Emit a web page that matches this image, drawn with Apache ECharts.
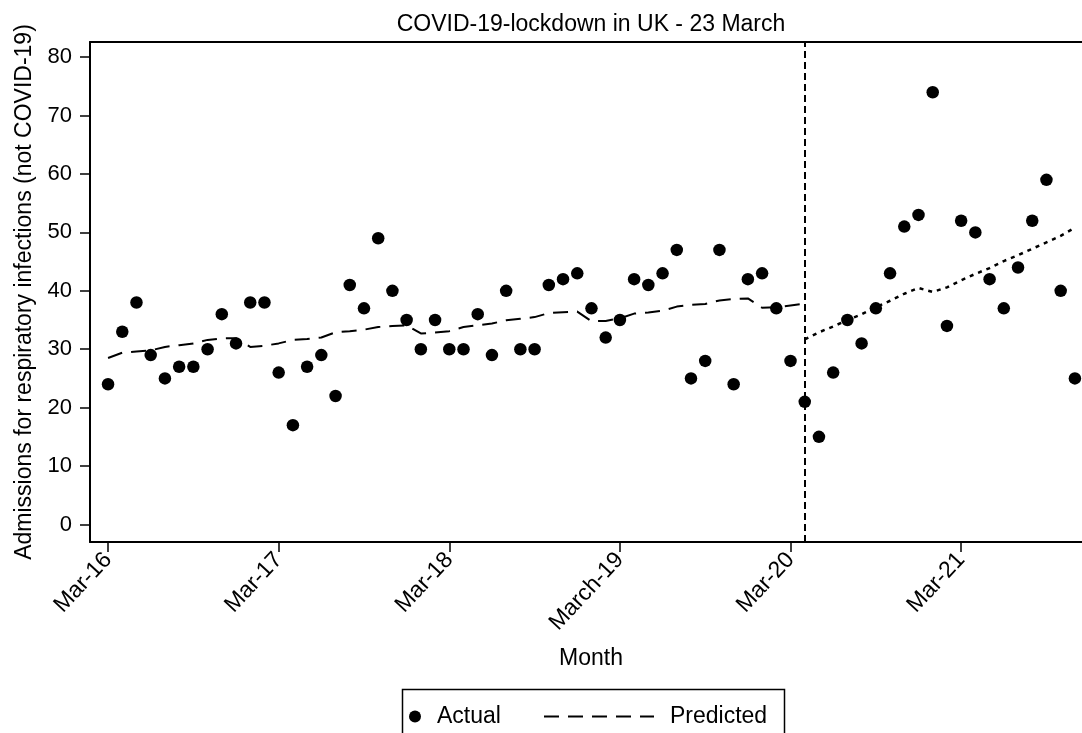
<!DOCTYPE html>
<html>
<head>
<meta charset="utf-8">
<script src="https://cdn.jsdelivr.net/npm/echarts@6/dist/echarts.min.js"></script>
<style>
  html, body { margin: 0; padding: 0; background: #fff; }
  #chart { width: 1082px; height: 733px; }
</style>
</head>
<body>
<div id="chart"></div>
<script>
// Month index 0 = Mar 2016, monthly through Nov 2021 (index 68)
const actual = [
  24, 33, 38, 29, 25, 27, 27, 30, 36, 31, 38, 38,
  26, 17, 27, 29, 22, 41, 37, 49, 40, 35, 30, 35,
  30, 30, 36, 29, 40, 30, 30, 41, 42, 43, 37, 32,
  35, 42, 41, 43, 47, 25, 28, 47, 24, 42, 43, 37,
  28, 21, 15, 26, 35, 31, 37, 43, 51, 53, 74, 34,
  52, 50, 42, 37, 44, 52, 59, 40, 25
];
// Predicted (pre-lockdown), month indices 0..49
const predicted = [
  28.5, 29.4, 29.6, 29.8, 30.4, 30.7, 31.0, 31.6, 31.85, 31.9,
  30.4, 30.6, 31.0, 31.6, 31.75, 32.0, 32.9, 33.1, 33.35, 33.8,
  34.0, 34.1, 32.7, 32.85, 33.1, 33.8, 34.1, 34.4, 34.95, 35.2,
  35.5, 36.2, 36.35, 36.45, 34.8, 34.85, 35.3, 36.1, 36.3, 36.6,
  37.3, 37.6, 37.75, 38.35, 38.6, 38.7, 37.1, 37.2, 37.5, 37.8
];
// Predicted after lockdown (dotted), month indices 49..68
const postStart = 49;
const predictedPost = [
  31.7, 32.9, 33.9, 35.0, 36.0, 37.2, 38.3, 39.5, 40.5, 39.8,
  40.6, 41.8, 42.9, 43.9, 45.1, 46.1, 47.2, 48.3, 49.4, 50.8
];
const lockdownIndex = 49;
const tickMonths = [0, 12, 24, 36, 48, 60];
const tickLabels = ['Mar-16', 'Mar-17', 'Mar-18', 'March-19', 'Mar-20', 'Mar-21'];
const yTicks = [0, 10, 20, 30, 40, 50, 60, 70, 80];

const FONT = '"Liberation Sans", Arial, Helvetica, sans-serif';

const actualData = actual.map((v, i) => [i, v]);
const predData = predicted.map((v, i) => [i, v]);
const postData = predictedPost.map((v, i) => [postStart + i, v]);

const chart = echarts.init(document.getElementById('chart'), null, { renderer: 'canvas' });
chart.setOption({
  animation: false,
  backgroundColor: '#fff',
  textStyle: { fontFamily: FONT, color: '#000' },
  title: {
    text: 'COVID-19-lockdown in UK - 23 March',
    left: 586, top: 8, textAlign: 'center',
    textStyle: { fontFamily: FONT, fontSize: 23, fontWeight: 'normal', color: '#000' }
  },
  grid: { left: 90, right: 0, top: 42, bottom: 191, containLabel: false },
  xAxis: [{
    type: 'value', min: -1.27, max: 68.5,
    name: 'Month', nameLocation: 'middle', nameGap: 105,
    nameTextStyle: { fontFamily: FONT, fontSize: 23, color: '#000', padding: [0, 0, 0, 10] },
    axisLine: { show: true, onZero: false, lineStyle: { color: '#000', width: 2 } },
    axisTick: { show: true, length: 10, lineStyle: { color: '#000', width: 1.5 }, customValues: tickMonths },
    axisLabel: {
      customValues: tickMonths, rotate: 47, margin: 14,
      fontFamily: FONT, fontSize: 23, color: '#000',
      formatter: v => { const k = tickMonths.indexOf(Math.round(v)); return k >= 0 ? tickLabels[k] : ''; }
    },
    splitLine: { show: false }
  }, {
    type: 'value', position: 'top', min: -1.27, max: 68.5,
    axisLine: { show: true, onZero: false, lineStyle: { color: '#000', width: 2 } },
    axisTick: { show: false }, axisLabel: { show: false }, splitLine: { show: false }
  }],
  yAxis: {
    type: 'value', min: -3, max: 82.6,
    name: 'Admissions for respiratory infections (not COVID-19)',
    nameLocation: 'middle', nameGap: 52,
    nameTextStyle: { fontFamily: FONT, fontSize: 23, color: '#000' },
    axisLine: { show: true, onZero: false, lineStyle: { color: '#000', width: 2 } },
    axisTick: { show: true, length: 10, lineStyle: { color: '#000', width: 1.5 }, customValues: yTicks },
    axisLabel: { customValues: yTicks, margin: 18, fontFamily: FONT, fontSize: 22, color: '#000' },
    splitLine: { show: false }
  },
  legend: [{
    data: ['Actual'], left: 404, top: 700, orient: 'horizontal',
    itemWidth: 12, itemHeight: 12, icon: 'circle', selectedMode: false,
    itemStyle: { opacity: 1 },
    textStyle: { fontFamily: FONT, fontSize: 23, color: '#000', padding: [0, 0, 0, 11] }
  }, {
    data: ['Predicted'], left: 538, top: 700, orient: 'horizontal',
    itemWidth: 110, itemHeight: 14, selectedMode: false,
    itemStyle: { opacity: 0 },
    textStyle: { fontFamily: FONT, fontSize: 23, color: '#000', padding: [0, 0, 0, 11] }
  }],
  graphic: [{
    type: 'rect', left: 400, top: 687, silent: true,
    shape: { width: 382, height: 70 },
    style: { fill: 'none', stroke: '#000', lineWidth: 1.5 }
  }],
  series: [{
    name: 'Actual', type: 'scatter', data: actualData,
    symbol: 'circle', symbolSize: 12.5,
    itemStyle: { color: '#000', opacity: 1 },
    markLine: {
      silent: true, symbol: ['none', 'none'], animation: false,
      label: { show: false },
      lineStyle: { color: '#000', type: [7, 4], width: 2 },
      data: [{ xAxis: lockdownIndex }]
    },
    z: 3
  }, {
    name: 'Predicted', type: 'line', data: predData,
    symbol: 'none', smooth: false,
    itemStyle: { color: '#000' },
    lineStyle: { color: '#000', width: 2, type: [15, 9] },
    z: 2
  }, {
    name: 'Predicted (post-lockdown)', type: 'line', data: postData,
    symbol: 'none', smooth: false,
    itemStyle: { color: '#000' },
    lineStyle: { color: '#000', width: 2.5, type: [4, 5] },
    z: 2
  }]
});
</script>
</body>
</html>
